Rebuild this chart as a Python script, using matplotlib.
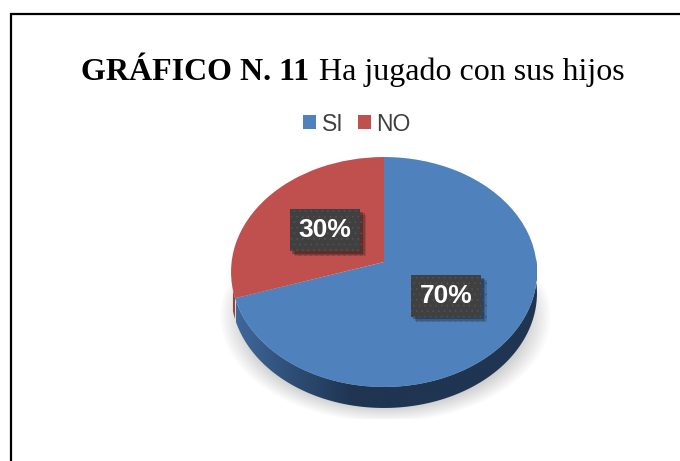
import numpy as np
import matplotlib
matplotlib.use("Agg")
import matplotlib.pyplot as plt
import matplotlib.patheffects as pe
from matplotlib.patches import Polygon
from matplotlib.transforms import Transform

categories = ["SI", "NO"]
values = [70, 30]
colors = ["#4F81BD", "#C0504D"]
title_bold = "GRÁFICO N. 11"
title_regular = "Ha jugado con sus hijos"

CX, CY = 384.0, 262.0
BX, AY, K = 152.4, 114.1, 0.087
DEPTH = 21.0


class Tilt(Transform):
    """Perspective view of the unit-circle pie, into pixel-like data coordinates."""
    input_dims = output_dims = 2
    is_separable = False
    has_inverse = False

    def transform_non_affine(self, v):
        v = np.asarray(v, float)
        d = 1 + K * v[:, 1]
        return np.column_stack([CX + BX * v[:, 0] / d, CY - AY * v[:, 1] / d])


tilt = Tilt()
plt.rcParams["hatch.linewidth"] = 0.5

fig = plt.figure(figsize=(6.8, 4.61), dpi=100, facecolor="white")
ax = fig.add_axes([0, 0, 1, 1])

# soft shadow under the pie
yy, xx = np.mgrid[0:461, 0:680]
r = np.sqrt(((xx - 385) / 166.0) ** 2 + ((yy - 316) / 106.0) ** 2)
a = np.clip((1 - r) / 0.2, 0, 1) * np.clip((yy - 265) / 30.0, 0, 1) * (yy < 419)
rgba = np.zeros((461, 680, 4))
rgba[..., :3] = 0.5
rgba[..., 3] = 0.5 * a
ax.imshow(rgba, extent=(0, 680, 461, 0), aspect="auto", zorder=1, interpolation="bilinear")

# pie top face and labels
wedges, _, autotexts = ax.pie(
    values, colors=colors, startangle=90, counterclock=False,
    autopct="%d%%", pctdistance=0.49,
    wedgeprops=dict(linewidth=0, zorder=4),
    textprops=dict(color="white", fontsize=19, fontweight="bold", family="Liberation Sans"),
)
for w in wedges:
    w.set_transform(tilt + ax.transData)
ax.set_aspect("auto")
ax.axis("off")

for t in autotexts:
    t.set_transform(tilt + ax.transData)
    t.set_zorder(6)
    t.set_bbox(dict(boxstyle="square,pad=0.34", facecolor="#404040", edgecolor="#525252",
                    linewidth=0, hatch="..."))
    t.get_bbox_patch().set_path_effects([
        pe.SimplePatchShadow(offset=(4, -4), shadow_rgbFace="black", alpha=0.12),
        pe.SimplePatchShadow(offset=(3, -3), shadow_rgbFace="black", alpha=0.18),
        pe.SimplePatchShadow(offset=(2, -2), shadow_rgbFace="black", alpha=0.25),
        pe.Normal(),
    ])

# pie side wall
edge = np.radians(90 - 360 * values[0] / sum(values))


def wall(t0, t1):
    th = np.linspace(t0, t1, 120)
    p = tilt.transform(np.column_stack([np.cos(th), np.sin(th)]))
    q = p[::-1] + [0, DEPTH]
    return np.vstack([p, q])


ax.add_patch(Polygon(wall(edge, np.radians(-166)), closed=True, facecolor="#9A403E",
                     linewidth=0, zorder=2))
grad = np.interp(np.linspace(236, 536, 300), [236, 290, 350, 536], [0, 0.5, 1, 1])
c0, c1 = np.array([0x3E, 0x68, 0x9B]) / 255, np.array([0x1F, 0x35, 0x52]) / 255
img = (c0[None, :] * (1 - grad[:, None]) + c1[None, :] * grad[:, None])[None, ...]
im = ax.imshow(img, extent=(236, 540, 420, 260), aspect="auto", zorder=3)
clip = Polygon(wall(edge, np.radians(2)), closed=True, transform=ax.transData)
im.set_clip_path(clip)
ax.set_xlim(0, 680)
ax.set_ylim(461, 0)

# frame: only left and top rules reach the image
ax.plot([11, 11, 680], [461, 14, 14], color="black", lw=1.6, solid_joinstyle="miter", zorder=7)

# title
ax.text(81, 80, title_bold, family="Liberation Serif", fontweight="bold",
        fontsize=23, color="black", ha="left", va="baseline")
ax.text(319, 80, title_regular, family="Liberation Serif", fontsize=23,
        color="black", ha="left", va="baseline")

# legend
ax.legend(wedges, categories, ncol=2, frameon=False, loc="center",
          bbox_to_anchor=(357, 124), bbox_transform=ax.transData,
          prop=dict(family="Liberation Sans", size=16.5), labelcolor="#404040",
          handlelength=0.57, handleheight=0.57, handletextpad=0.25, columnspacing=0.6,
          borderpad=0, borderaxespad=0)

fig.savefig("out.png", dpi=100)
